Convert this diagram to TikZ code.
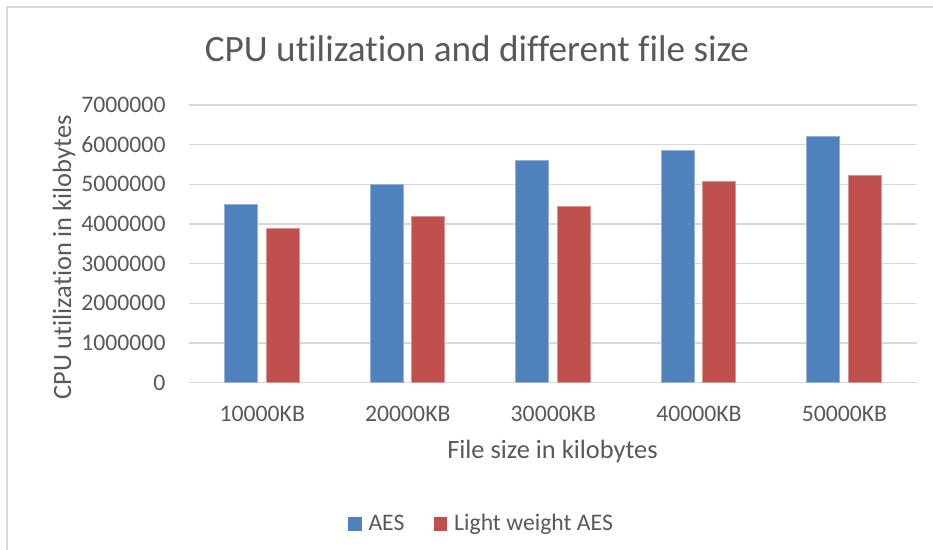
\documentclass[tikz,border=0pt]{standalone}
\usepackage{fontspec}
\setmainfont[Ligatures={NoCommon,NoContextual}]{Carlito}
\definecolor{aesblue}{HTML}{4F81BD}
\definecolor{lwred}{HTML}{C0504D}
\definecolor{gridgray}{HTML}{D9D9D9}
\definecolor{txtgray}{HTML}{595959}
\begin{document}
\begin{tikzpicture}[x=1pt,y=-1pt,
  gridline/.style={draw=gridgray,line width=1.5pt},
  aesbar/.style={fill=aesblue,draw=aesblue!60!white,line width=0.6pt},
  lwbar/.style={fill=lwred,draw=lwred!60!white,line width=0.6pt},
  ticklbl/.style={text=txtgray,font=\fontsize{23.7}{26}\selectfont,inner sep=0pt},
  axtitle/.style={text=txtgray,font=\fontsize{26.4}{30}\selectfont,inner sep=0pt},
  charttitle/.style={text=txtgray,font=\fontsize{37.2}{40}\selectfont,inner sep=0pt}]
\useasboundingbox (0,0) rectangle (933,549);
\fill[white] (0,0) rectangle (933,549);
% frame
\draw[gridgray,line width=1.2pt] (7,560) -- (7,7) -- (945,7);
% gridlines and tick labels
\foreach \i/\val in {0/0,1/1000000,2/2000000,3/3000000,4/4000000,5/5000000,6/6000000,7/7000000}{
  \pgfmathsetmacro{\yy}{382.7-39.67*\i}
  \draw[gridline] (189,\yy) -- (916.7,\yy);
  \node[ticklbl,anchor=east] (tick\i) at (165.7,\yy) {\val};
}
% bars
\foreach \i/\a/\b/\lab in {1/4.5/3.9/10000KB,2/5.0/4.19/20000KB,3/5.606/4.447/30000KB,4/5.848/5.077/40000KB,5/6.21/5.218/50000KB}{
  \pgfmathsetmacro{\c}{189+145.54*(\i-0.5)}
  \pgfmathsetmacro{\ya}{382.7-39.67*\a}
  \pgfmathsetmacro{\yb}{382.7-39.67*\b}
  \draw[aesbar] (\c-37.5,382.7) rectangle (\c-4.5,\ya);
  \draw[lwbar] (\c+4.2,382.7) rectangle (\c+37.2,\yb);
  \node[ticklbl,anchor=base] (cat\i) at (\c+0.5,421.5) {\lab};
}
% titles
\node[charttitle,anchor=base] (title) at (477,61) {CPU utilization and different file size};
\node[axtitle,anchor=base] (xtitle) at (552.5,458.3) {File size in kilobytes};
\node[axtitle,anchor=base,rotate=90] (ytitle) at (71,257.5) {CPU utilization in kilobytes};
% legend
\fill[aesblue] (348.3,516.7) rectangle (361.7,530.7);
\node[ticklbl,anchor=base west] (legA) at (368.3,530.5) {AES};
\fill[lwred] (434,516.7) rectangle (447.3,530.7);
\node[ticklbl,anchor=base west] (legB) at (454,530.5) {Light weight AES};
\end{tikzpicture}
\end{document}
